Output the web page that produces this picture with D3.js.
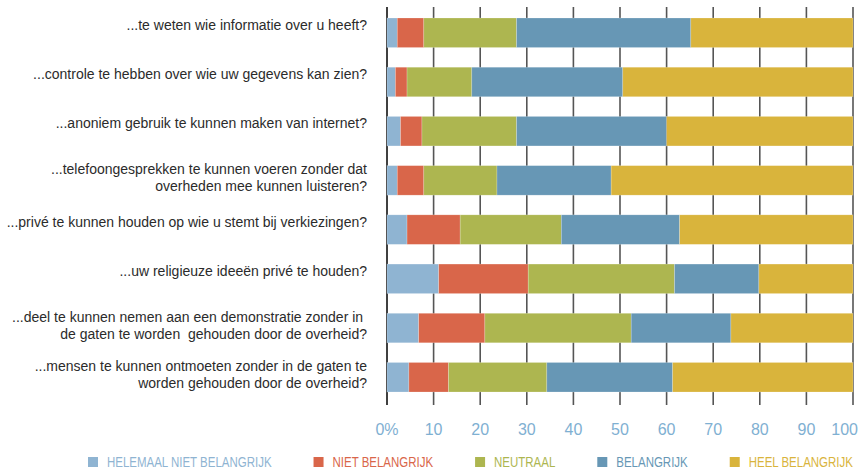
<!DOCTYPE html>
<html>
<head>
<meta charset="utf-8">
<script src="https://cdn.jsdelivr.net/npm/d3@7"></script>
<style>
  body { margin: 0; background: #fff; }
  svg text { font-family: "Liberation Sans", Arial, sans-serif; white-space: pre; }
</style>
</head>
<body>
<div id="chart"></div>
<script>
// Questions (one array per wrapped label)
const questions = [
  ["...te weten wie informatie over u heeft?"],
  ["...controle te hebben over wie uw gegevens kan zien?"],
  ["...anoniem gebruik te kunnen maken van internet?"],
  ["...telefoongesprekken te kunnen voeren zonder dat", "overheden mee kunnen luisteren?"],
  ["...privé te kunnen houden op wie u stemt bij verkiezingen?"],
  ["...uw religieuze ideeën privé te houden?"],
  ["...deel te kunnen nemen aan een demonstratie zonder in ", "de gaten te worden  gehouden door de overheid?"],
  ["...mensen te kunnen ontmoeten zonder in de gaten te", "worden gehouden door de overheid?"]
];

const categories = ["HELEMAAL NIET BELANGRIJK", "NIET BELANGRIJK", "NEUTRAAL", "BELANGRIJK", "HEEL BELANGRIJK"];

// percentages per answer category, one value per question
const helemaalNiet = [2.2, 1.8, 2.9, 2.2, 4.3, 11.1, 6.8, 4.7];
const niet         = [5.7, 2.5, 4.6, 5.7, 11.4, 19.2, 14.2, 8.5];
const neutraal     = [19.9, 13.9, 20.3, 15.7, 21.7, 31.4, 31.4, 21.1];
const belangrijk   = [37.4, 32.4, 32.2, 24.5, 25.4, 18.1, 21.4, 27.0];
const heel         = [34.8, 49.4, 40.0, 51.9, 37.2, 20.2, 26.2, 38.7];

const tickValues = [0, 10, 20, 30, 40, 50, 60, 70, 80, 90, 100];
const tickLabels = ["0%", "10", "20", "30", "40", "50", "60", "70", "80", "90", "100"];

const colors = ["#8fb4d2", "#d9664a", "#adb650", "#6797b5", "#d9b43c"];

const width = 863, height = 469;

const data = questions.map((q, i) => ({
  id: i,
  label: q,
  c0: helemaalNiet[i], c1: niet[i], c2: neutraal[i], c3: belangrijk[i], c4: heel[i]
}));
const keys = ["c0", "c1", "c2", "c3", "c4"];

const svg = d3.select("#chart").append("svg")
  .attr("width", width)
  .attr("height", height);

const x = d3.scaleLinear()
  .domain([0, 100])
  .range([387, 853]);

const y = d3.scaleBand()
  .domain(data.map(d => d.id))
  .range([18, 392])
  .paddingInner(0.4)
  .paddingOuter(0);

const colorScale = d3.scaleOrdinal().domain(keys).range(colors);

// gridlines
svg.append("g")
  .selectAll("line")
  .data(tickValues)
  .join("line")
  .attr("x1", d => x(d))
  .attr("x2", d => x(d))
  .attr("y1", 7)
  .attr("y2", 405)
  .attr("stroke", d => d === 0 ? "#000" : "#555")
  .attr("stroke-width", d => d === 0 ? 1.5 : 1.6);

// bars
const stacked = d3.stack().keys(keys)(data);
svg.append("g")
  .selectAll("g")
  .data(stacked)
  .join("g")
  .attr("fill", d => colorScale(d.key))
  .selectAll("rect")
  .data(d => d)
  .join("rect")
  .attr("x", d => x(d[0]))
  .attr("width", d => x(d[1]) - x(d[0]))
  .attr("y", d => y(d.data.id))
  .attr("height", y.bandwidth())
  .attr("stroke", "#fff")
  .attr("stroke-opacity", 0.35)
  .attr("stroke-width", 0.6);

// question labels
const labels = svg.append("g")
  .selectAll("text")
  .data(data)
  .join("text")
  .attr("text-anchor", "end")
  .attr("font-size", 14)
  .attr("fill", "#2b2b2b")
  .attr("x", 367)
  .attr("y", d => y(d.id) + y.bandwidth() / 2 - (d.label.length > 1 ? 3 : 8));

labels.selectAll("tspan")
  .data(d => d.label.map((t, j) => ({ t, j, n: d.label.length })))
  .join("tspan")
  .attr("x", 367)
  .attr("dy", d => d.j === 0 ? (d.n > 1 ? "-0.25em" : "0.35em") : "17px")
  .text(d => d.t);

// axis tick labels
svg.append("g")
  .selectAll("text")
  .data(tickValues)
  .join("text")
  .attr("x", (d, i) => i === tickValues.length - 1 ? x(d) + 5 : x(d))
  .attr("y", 435)
  .attr("text-anchor", (d, i) => i === tickValues.length - 1 ? "end" : "middle")
  .attr("font-size", 16)
  .attr("fill", "#7fb0d2")
  .text((d, i) => tickLabels[i]);

// legend (text squeezed horizontally to mimic the condensed face)
const squeeze = 0.82;
const legend = svg.append("g").attr("transform", "translate(0,462)");
let lx = 88;
categories.forEach((c, i) => {
  const item = legend.append("g").attr("transform", `translate(${lx},0)`);
  item.append("rect")
    .attr("x", 0).attr("y", -5)
    .attr("width", 10).attr("height", 10)
    .attr("fill", colors[i]);
  const t = item.append("text")
    .attr("transform", `translate(19,5) scale(${squeeze},1)`)
    .attr("font-size", 14)
    .attr("fill", colors[i])
    .text(c);
  lx += 19 + t.node().getComputedTextLength() * squeeze + 42;
});
</script>
</body>
</html>
